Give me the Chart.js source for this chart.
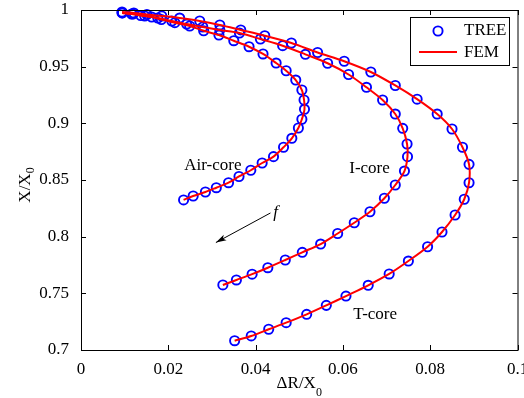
<!DOCTYPE html>
<html>
<head>
<meta charset="utf-8">
<script src="https://cdn.jsdelivr.net/npm/chart.js@4.4.1/dist/chart.umd.min.js"></script>
<style>
  html, body { margin: 0; padding: 0; background: #fff; }
  #wrap { width: 524px; height: 398px; }
</style>
</head>
<body>
<div id="wrap"><canvas id="chartCanvas" width="524" height="398"></canvas></div>
<script>
// Air-core curve
const airX = [0.0095, 0.0116, 0.0137, 0.0162, 0.0184, 0.0215, 0.0249, 0.0281, 0.0316, 0.0350,
  0.0385, 0.0417, 0.0447, 0.0470, 0.0492, 0.0506, 0.0511, 0.0512, 0.0506, 0.0498,
  0.0483, 0.0464, 0.0441, 0.0415, 0.0389, 0.0362, 0.0338, 0.0310, 0.0285, 0.0257, 0.0235];
const airY = [0.9974, 0.9965, 0.9951, 0.9938, 0.9916, 0.9888, 0.9859, 0.9817, 0.9779, 0.9729,
  0.9676, 0.9612, 0.9532, 0.9464, 0.9382, 0.9294, 0.9206, 0.9124, 0.9036, 0.8959,
  0.8868, 0.8789, 0.8706, 0.8650, 0.8586, 0.8531, 0.8476, 0.8432, 0.8394, 0.8359, 0.8324];

// I-core curve
const iX = [0.0094, 0.0119, 0.0146, 0.0176, 0.0208, 0.0242, 0.0279, 0.0318, 0.0363, 0.0411,
  0.0462, 0.0514, 0.0565, 0.0613, 0.0654, 0.0691, 0.0720, 0.0737, 0.0747, 0.0748,
  0.0741, 0.0720, 0.0695, 0.0662, 0.0626, 0.0588, 0.0549, 0.0507, 0.0468, 0.0428,
  0.0392, 0.0356, 0.0325];
const iY = [0.9974, 0.9965, 0.9947, 0.9929, 0.9903, 0.9876, 0.9850, 0.9824, 0.9797, 0.9744,
  0.9685, 0.9609, 0.9530, 0.9431, 0.9318, 0.9206, 0.9082, 0.8956, 0.8818, 0.8706,
  0.8579, 0.8456, 0.8339, 0.8220, 0.8123, 0.8028, 0.7935, 0.7862, 0.7794, 0.7726,
  0.7669, 0.7618, 0.7574];

// T-core curve
const tX = [0.0094, 0.0121, 0.0151, 0.0185, 0.0226, 0.0272, 0.0318, 0.0366, 0.0421, 0.0482,
  0.0542, 0.0603, 0.0664, 0.0720, 0.0770, 0.0816, 0.0850, 0.0874, 0.0889, 0.0889,
  0.0878, 0.0857, 0.0827, 0.0794, 0.0750, 0.0706, 0.0658, 0.0607, 0.0562, 0.0517,
  0.0470, 0.0430, 0.0390, 0.0352];
const tY = [0.9982, 0.9974, 0.9960, 0.9947, 0.9929, 0.9903, 0.9868, 0.9824, 0.9773, 0.9709,
  0.9625, 0.9548, 0.9453, 0.9334, 0.9213, 0.9082, 0.8950, 0.8789, 0.8638, 0.8476,
  0.8330, 0.8191, 0.8041, 0.7911, 0.7785, 0.7671, 0.7571, 0.7476, 0.7394, 0.7315,
  0.7241, 0.7183, 0.7124, 0.7082];

const xTicks = [0, 0.02, 0.04, 0.06, 0.08, 0.1];
const yTicks = [0.7, 0.75, 0.8, 0.85, 0.9, 0.95, 1];

const serif = '"Liberation Serif", "Times New Roman", serif';

function pts(xs, ys) {
  return xs.map((x, i) => ({ x: x, y: ys[i] }));
}

function treeSet(xs, ys) {
  return {
    label: 'TREE', data: pts(xs, ys), showLine: false,
    pointStyle: 'circle', pointRadius: 4.6, pointBorderWidth: 1.9,
    pointBorderColor: '#0000ff', pointBackgroundColor: 'rgba(0,0,0,0)',
    order: 2, clip: false
  };
}

function femSet(xs, ys) {
  return {
    label: 'FEM', data: pts(xs, ys), showLine: true,
    borderColor: '#ff0000', borderWidth: 2, pointRadius: 0, tension: 0.3,
    order: 1, clip: false
  };
}

// frame, inward ticks, labels, arrow, legend
const decorPlugin = {
  id: 'decor',
  afterDraw(c) {
    const ctx = c.ctx;
    const a = c.chartArea;
    const xs = c.scales.x, ys = c.scales.y;
    ctx.save();
    ctx.strokeStyle = '#000';
    ctx.lineWidth = 1;
    ctx.strokeRect(a.left + 0.5, a.top + 0.5, a.right - a.left, a.bottom - a.top);

    ctx.beginPath();
    xs.ticks.forEach(t => {
      const px = Math.round(xs.getPixelForValue(t.value)) + 0.5;
      ctx.moveTo(px, a.bottom); ctx.lineTo(px, a.bottom - 5);
      ctx.moveTo(px, a.top); ctx.lineTo(px, a.top + 5);
    });
    ys.ticks.forEach(t => {
      const py = Math.round(ys.getPixelForValue(t.value)) + 0.5;
      ctx.moveTo(a.left, py); ctx.lineTo(a.left + 5, py);
      ctx.moveTo(a.right, py); ctx.lineTo(a.right - 5, py);
    });
    ctx.stroke();

    // curve labels
    ctx.fillStyle = '#000';
    ctx.font = '17px ' + serif;
    ctx.textAlign = 'center';
    ctx.textBaseline = 'middle';
    const labels = [['Air-core', 0.0302, 0.8632], ['I-core', 0.0661, 0.8597], ['T-core', 0.0674, 0.7309]];
    labels.forEach(l => ctx.fillText(l[0], xs.getPixelForValue(l[1]), ys.getPixelForValue(l[2])));

    // frequency arrow
    const x0 = xs.getPixelForValue(0.0434), y0 = ys.getPixelForValue(0.8209);
    const x1 = xs.getPixelForValue(0.0309), y1 = ys.getPixelForValue(0.7948);
    ctx.beginPath();
    ctx.moveTo(x0, y0); ctx.lineTo(x1, y1);
    ctx.stroke();
    const ang = Math.atan2(y1 - y0, x1 - x0);
    ctx.beginPath();
    ctx.moveTo(x1, y1);
    ctx.lineTo(x1 - 11 * Math.cos(ang - 0.28), y1 - 11 * Math.sin(ang - 0.28));
    ctx.lineTo(x1 - 8 * Math.cos(ang), y1 - 8 * Math.sin(ang));
    ctx.lineTo(x1 - 11 * Math.cos(ang + 0.28), y1 - 11 * Math.sin(ang + 0.28));
    ctx.closePath();
    ctx.fill();
    ctx.font = 'italic 17px ' + serif;
    ctx.fillText('f', xs.getPixelForValue(0.0446), ys.getPixelForValue(0.8215));

    // x title with subscript
    ctx.textAlign = 'left';
    ctx.textBaseline = 'alphabetic';
    ctx.font = '17px ' + serif;
    const xMain = '\u0394R/X';
    const wMain = ctx.measureText(xMain).width;
    ctx.font = '12px ' + serif;
    const wSub = ctx.measureText('0').width;
    const cx = (a.left + a.right) / 2;
    let sx = cx - (wMain + wSub) / 2;
    ctx.font = '17px ' + serif;
    ctx.fillText(xMain, sx, 388);
    ctx.font = '12px ' + serif;
    ctx.fillText('0', sx + wMain, 396);

    // y title with subscript
    ctx.save();
    const cy = (a.top + a.bottom) / 2 + 5;
    ctx.translate(24, cy);
    ctx.rotate(-Math.PI / 2);
    ctx.font = '17px ' + serif;
    const yMain = 'X/X';
    const wy = ctx.measureText(yMain).width;
    ctx.fillText(yMain, -(wy + wSub) / 2, 6);
    ctx.font = '12px ' + serif;
    ctx.fillText('0', -(wy + wSub) / 2 + wy, 10);
    ctx.restore();

    // legend
    ctx.fillStyle = '#fff';
    ctx.fillRect(410.5, 17.5, 99, 48);
    ctx.strokeStyle = '#000';
    ctx.lineWidth = 1;
    ctx.strokeRect(410.5, 17.5, 99, 48);
    ctx.beginPath();
    ctx.strokeStyle = '#0000ff';
    ctx.lineWidth = 1.9;
    ctx.arc(438, 31, 4.6, 0, Math.PI * 2);
    ctx.stroke();
    ctx.beginPath();
    ctx.strokeStyle = '#ff0000';
    ctx.lineWidth = 2;
    ctx.moveTo(419, 52); ctx.lineTo(457, 52);
    ctx.stroke();
    ctx.fillStyle = '#000';
    ctx.font = '17px ' + serif;
    ctx.textBaseline = 'middle';
    ctx.fillText('TREE', 464, 31);
    ctx.fillText('FEM', 464, 53);
    ctx.restore();
  }
};

function initChart() {
  const ctx = document.getElementById('chartCanvas').getContext('2d');
  new Chart(ctx, {
    type: 'scatter',
    data: {
      datasets: [
        treeSet(airX, airY), treeSet(iX, iY), treeSet(tX, tY),
        femSet(airX, airY), femSet(iX, iY), femSet(tX, tY)
      ]
    },
    options: {
      responsive: false,
      animation: false,
      devicePixelRatio: 1,
      layout: { padding: { left: 0, right: 6, top: 10, bottom: 0 } },
      plugins: { legend: { display: false }, tooltip: { enabled: false } },
      scales: {
        x: {
          type: 'linear', min: 0, max: 0.1,
          grid: { display: false }, border: { display: false },
          afterBuildTicks: s => { s.ticks = xTicks.map(v => ({ value: v })); },
          afterFit: s => { s.height = 48; s.paddingLeft = 0; s.paddingRight = 0; },
          ticks: {
            color: '#000', padding: 1, maxRotation: 0, autoSkip: false,
            font: { family: serif, size: 17 },
            callback: v => String(v)
          }
        },
        y: {
          type: 'linear', min: 0.7, max: 1,
          grid: { display: false }, border: { display: false },
          afterBuildTicks: s => { s.ticks = yTicks.map(v => ({ value: v })); },
          afterFit: s => { s.width = 81; s.paddingTop = 0; s.paddingBottom = 0; },
          ticks: {
            color: '#000', padding: 4, autoSkip: false,
            font: { family: serif, size: 17 },
            callback: v => String(v)
          }
        }
      }
    },
    plugins: [decorPlugin]
  });
}

document.addEventListener('DOMContentLoaded', initChart);
</script>
</body>
</html>
